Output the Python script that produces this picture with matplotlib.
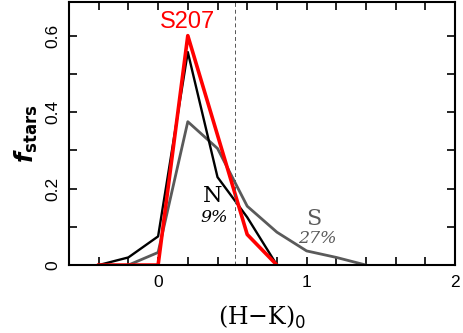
import numpy as np
import matplotlib
matplotlib.use("Agg")
import matplotlib.pyplot as plt
from matplotlib.ticker import MultipleLocator

# colour bins (H-K)_0
hk_s207 = [-0.4, -0.2, 0.0, 0.2, 0.4, 0.6, 0.8]
f_s207 = [0.0, 0.0, 0.0, 0.60, 0.34, 0.08, 0.0]

hk_n = [-0.4, -0.2, 0.0, 0.2, 0.4, 0.6, 0.8]
f_n = [0.0, 0.02, 0.075, 0.557, 0.23, 0.125, 0.0]

hk_s = [-0.2, 0.0, 0.2, 0.4, 0.6, 0.8, 1.0, 1.2, 1.4]
f_s = [0.0, 0.033, 0.375, 0.305, 0.154, 0.086, 0.037, 0.02, 0.0]

hk_cut = 0.52

plt.rcParams['font.family'] = ['Liberation Sans', 'DejaVu Sans']
plt.rcParams['mathtext.fontset'] = 'dejavusans'
fig = plt.figure(figsize=(4.63, 3.33), dpi=100)
ax = fig.add_axes([0.149, 0.204, 0.834, 0.790])

ax.plot(hk_s, f_s, color="#5a5a5a", lw=2.0)
ax.plot(hk_n, f_n, color="black", lw=1.7)
ax.plot(hk_s207, f_s207, color="red", lw=2.6)
ax.axvline(hk_cut, color="#555555", lw=0.7, ls=(0, (4, 3)))

ax.set_xlim(-0.6, 2.0)
ax.set_ylim(0, 0.688)
ax.xaxis.set_major_locator(MultipleLocator(1))
ax.xaxis.set_minor_locator(MultipleLocator(0.2))
ax.yaxis.set_minor_locator(MultipleLocator(0.1))
ax.set_yticks([0, 0.2, 0.4, 0.6])
ax.set_yticklabels(["0", "0.2", "0.4", "0.6"], rotation=90, va="center")
ax.tick_params(which="both", direction="in", top=True, right=True,
               length=6, width=1.2, labelsize=12.5)
ax.tick_params(axis="y", pad=6)
ax.tick_params(axis="x", pad=7)
for sp in ax.spines.values():
    sp.set_linewidth(1.5)

ax.text(0.2, 0.607, "S207", color="red", fontsize=17, ha="center", va="bottom")
ax.text(0.365, 0.153, "N", fontsize=16, family="DejaVu Serif", ha="center", va="bottom")
ax.text(0.375, 0.103, "9%", fontsize=12.5, family="DejaVu Serif", style="italic", ha="center", va="bottom")
ax.text(1.05, 0.093, "S", fontsize=16, family="DejaVu Serif", color="#5a5a5a", ha="center", va="bottom")
ax.text(1.07, 0.048, "27%", fontsize=12.5, family="DejaVu Serif", style="italic", color="#5a5a5a", ha="center", va="bottom")

ax.set_xlabel(r"(H$-$K)$_{\mathsf{0}}$", fontsize=17, family="DejaVu Serif", labelpad=10)
ax.set_ylabel(r"$\boldsymbol{f}_{\mathbf{stars}}$", fontsize=17)
ax.yaxis.set_label_coords(-0.075, 0.5)

fig.savefig("out.png", dpi=100)
